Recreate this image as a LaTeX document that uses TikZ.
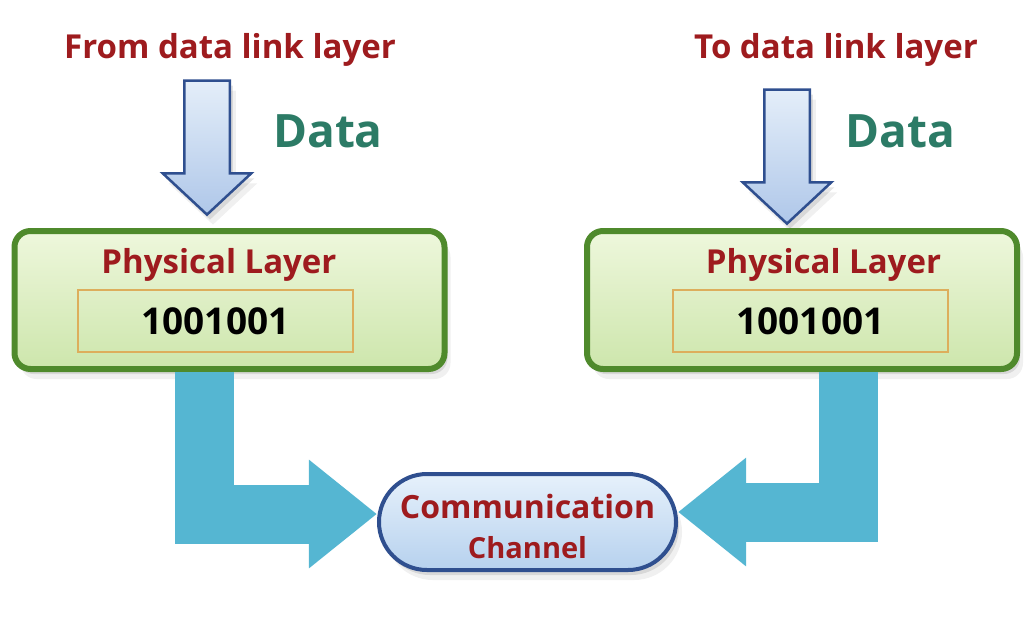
\documentclass[tikz,border=0pt]{standalone}
\usepackage{fontspec}
\setmainfont{Open Sans}
\usetikzlibrary{arrows.meta,shapes.arrows,shapes.misc,shadows}

\definecolor{linkred}{HTML}{9E1B1E}
\definecolor{datateal}{HTML}{2C7B66}
\definecolor{layergreen}{HTML}{4F8A2C}
\definecolor{layertop}{HTML}{EEF7DC}
\definecolor{layerbot}{HTML}{CDE6AC}
\definecolor{bitgold}{HTML}{DDAE5C}
\definecolor{arrowblue}{HTML}{2F4F8F}
\definecolor{arrowtop}{HTML}{E4EEF9}
\definecolor{arrowbot}{HTML}{AFC7E9}
\definecolor{flowcyan}{HTML}{55B6D2}
\definecolor{chantop}{HTML}{E6F1FB}
\definecolor{chanbot}{HTML}{B6D1EE}

\begin{document}
\begin{tikzpicture}[x=1pt, y=-1pt,
  softshadow/.style={drop shadow={shadow xshift=3pt, shadow yshift=-5pt, opacity=.10, fill=black},
                     drop shadow={shadow xshift=6pt, shadow yshift=-10pt, opacity=.06, fill=black}},
  toplabel/.style={font=\bfseries\fontsize{33}{38}\selectfont, text=linkred, anchor=base, inner sep=0pt},
  datalabel/.style={font=\bfseries\fontsize{46}{50}\selectfont, text=datateal, anchor=base, inner sep=0pt},
  datarrow/.style={single arrow, shape border rotate=270, draw=arrowblue, line width=2.5pt,
                   top color=arrowtop, bottom color=arrowbot, minimum height=134pt,
                   single arrow head extend=21.5pt, single arrow tip angle=94, inner sep=21.5pt, softshadow},
  layerbox/.style={rectangle, draw=layergreen, line width=6pt, rounded corners=16pt,
                   top color=layertop, bottom color=layerbot, minimum width=430pt, minimum height=138pt, softshadow},
  layertitle/.style={font=\bfseries\fontsize{33}{36}\selectfont, text=linkred, anchor=base, inner sep=0pt},
  bitbox/.style={rectangle, draw=bitgold, line width=1.2pt, minimum width=275pt, minimum height=62pt,
                 font=\bfseries\fontsize{37}{40}\selectfont, text=black},
  channel/.style={rounded rectangle, draw=arrowblue, line width=4pt, top color=chantop, bottom color=chanbot,
                  minimum width=295pt, minimum height=96pt, align=center, text=linkred,
                  font=\bfseries\fontsize{29}{40}\selectfont, softshadow},
  flow/.style={draw=flowcyan, line width=59pt, line join=miter, -{Triangle[length=68pt, width=104pt]}},
]
\useasboundingbox (0,0) rectangle (1024,630);

% sender side
\node[toplabel] (from) at (230,58) {From data link layer};
\node[datarrow] (larr) at (207,137) {};
\node[datalabel] (ldata) at (328,147) {Data};
\node[layerbox] (lbox) at (229.5,300) {};
\node[layertitle] (ltitle) at (219,273) {Physical Layer};
\node[bitbox] (lbits) at (215.5,321) {1001001};

% receiver side
\node[toplabel] (to) at (836,58) {To data link layer};
\node[datarrow] (rarr) at (787,146) {};
\node[datalabel] (rdata) at (900,147) {Data};
\node[layerbox] (rbox) at (802,300) {};
\node[layertitle] (rtitle) at (823.5,273) {Physical Layer};
\node[bitbox] (rbits) at (810.5,321) {1001001};

% channel
\node[channel] (comm) at (527.5,522) {{\fontsize{32}{40}\selectfont\rule{0pt}{34pt}Communication}\\Channel};

\draw[flow] ([xshift=-25pt]lbox.south) |- ([yshift=8pt]comm.west);
\draw[flow] ([xshift=46pt]rbox.south) |- ([yshift=10pt]comm.east);
\end{tikzpicture}
\end{document}
